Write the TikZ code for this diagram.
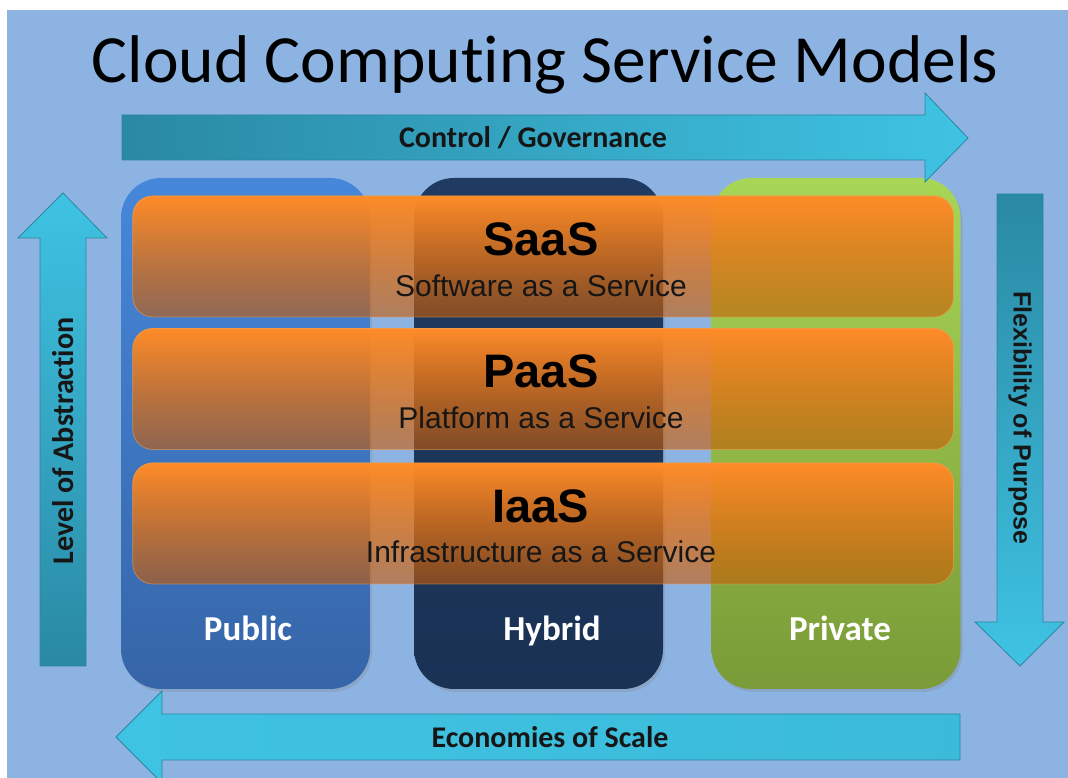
\documentclass[tikz,border=0pt]{standalone}
\usepackage{fontspec}
\setmainfont[Ligatures=NoCommon]{Carlito}
\newfontfamily\arialf{Liberation Sans}
\usetikzlibrary{fadings,shadows}
\definecolor{bgblue}{HTML}{8DB3E2}
\definecolor{arrdark}{HTML}{2A89A4}
\definecolor{arrlight}{HTML}{3FC3E3}
\definecolor{arredge}{HTML}{2C86A0}
\definecolor{pubtop}{HTML}{4687DA}
\definecolor{pubbot}{HTML}{3665A8}
\definecolor{hybtop}{HTML}{1F3B62}
\definecolor{hybbot}{HTML}{1A3254}
\definecolor{pritop}{HTML}{A8D656}
\definecolor{pribot}{HTML}{7A9B38}
\definecolor{bartop}{HTML}{FF8C28}
\definecolor{barbot}{HTML}{C85B04}
\definecolor{baredge}{HTML}{F29A45}
\definecolor{txtdark}{HTML}{161616}
\tikzfading[name=barfade, top color=transparent!0, middle color=transparent!10, bottom color=transparent!42]
\begin{document}
\begin{tikzpicture}[x=1pt,y=1pt,
  col/.style={rounded corners=40pt, minimum width=249pt, minimum height=511pt,
    inner sep=0pt, outer sep=0pt,
    drop shadow={opacity=0.25, shadow xshift=2pt, shadow yshift=-3pt}},
  bar/.style={rounded corners=20pt, minimum width=821pt, minimum height=121pt,
    inner sep=0pt, outer sep=0pt, top color=bartop, middle color=bartop!80!barbot, bottom color=barbot,
    draw=baredge, line width=0.8pt, path fading=barfade},
  arr/.style={draw=arredge, line width=0.8pt},
  arrtxt/.style={font=\fontsize{30}{32}\selectfont\bfseries, text=txtdark, inner sep=0pt},
  coltxt/.style={font=\fontsize{35}{37}\selectfont\bfseries, text=white, inner sep=0pt, anchor=base},
  bigtxt/.style={font=\arialf\fontsize{47}{50}\selectfont\bfseries, text=black, inner sep=0pt, anchor=base},
  subtxt/.style={font=\arialf\fontsize{30}{32}\selectfont, text=txtdark, inner sep=0pt, anchor=base}]
\useasboundingbox (0,0) rectangle (1068,778);
\fill[white] (0,0) rectangle (1068,778);
\fill[bgblue] (7,0) rectangle (1068,768);

% title
\node[font=\fontsize{67.5}{70}\selectfont, text=black, inner sep=0pt, anchor=base] (title) at (545,695) {Cloud Computing Service Models};

% deployment columns
\node[col, top color=pubtop, bottom color=pubbot] (public) at (245.5,344.5) {};
\node[col, top color=hybtop, bottom color=hybbot] (hybrid) at (538.5,344.5) {};
\node[col, top color=pritop, bottom color=pribot] (private) at (836,344.5) {};
\node[coltxt] (publicL) at (248,137) {Public};
\node[coltxt] (hybridL) at (552,137) {Hybrid};
\node[coltxt] (privateL) at (840,137) {Private};

% service bars
\node[bar] (saas) at (543.5,521.5) {};
\node[bar] (paas) at (543.5,389) {};
\node[bar] (iaas) at (543.5,254.5) {};
\node[bigtxt] (saasT) at (541,522) {SaaS};
\node[subtxt] (saasS) at (541,481) {Software as a Service};
\node[bigtxt] (paasT) at (541,390) {PaaS};
\node[subtxt] (paasS) at (541,349) {Platform as a Service};
\node[bigtxt] (iaasT) at (541,255) {IaaS};
\node[subtxt] (iaasS) at (541,215) {Infrastructure as a Service};

% top arrow: Control / Governance
\shade[arr, left color=arrdark, right color=arrlight]
  (122,618) -- (925,618) -- (925,596) -- (968,640) -- (925,685) -- (925,663) -- (122,663) -- cycle;
\node[arrtxt] (control) at (533,640) {Control / Governance};

% left arrow: Level of Abstraction
\shade[arr, bottom color=arrdark, top color=arrlight]
  (40,112) -- (86,112) -- (86,540) -- (107,540) -- (63,585) -- (18,540) -- (40,540) -- cycle;
\node[arrtxt, rotate=90] (abstraction) at (63,337) {Level of Abstraction};

% right arrow: Flexibility of Purpose
\shade[arr, top color=arrdark, bottom color=arrlight]
  (997,584) -- (1043,584) -- (1043,156) -- (1064,156) -- (1020,112) -- (975,156) -- (997,156) -- cycle;
\node[font=\arialf\fontsize{25}{27}\selectfont\bfseries, text=txtdark, inner sep=0pt, rotate=-90] (flex) at (1020,360) {Flexibility of Purpose};

% bottom arrow: Economies of Scale
\shade[arr, left color=arrlight, right color=arrlight!85!arrdark]
  (960,64) -- (162,64) -- (162,87) -- (116,41) -- (162,-5) -- (162,18) -- (960,18) -- cycle;
\node[arrtxt] (economies) at (550,41) {Economies of Scale};
\end{tikzpicture}
\end{document}
